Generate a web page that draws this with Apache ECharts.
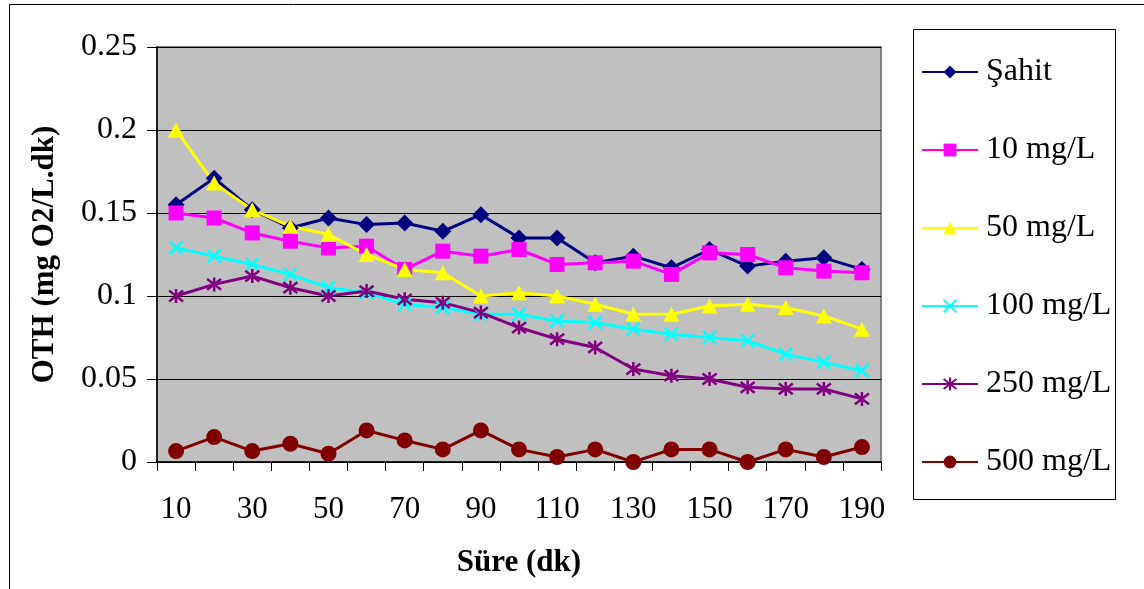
<!DOCTYPE html>
<html>
<head>
<meta charset="utf-8">
<script src="https://cdn.jsdelivr.net/npm/echarts@6/dist/echarts.min.js"></script>
<style>
html,body{margin:0;padding:0;background:#fff;}
#chart{width:1144px;height:589px;}
</style>
</head>
<body>
<div id="chart"></div>
<script>
const categories = ['10','20','30','40','50','60','70','80','90','100','110','120','130','140','150','160','170','180','190'];
const seriesNames = ['Şahit','10 mg/L','50 mg/L','100 mg/L','250 mg/L','500 mg/L'];
const sahit   = [0.155,0.171,0.152,0.141,0.147,0.143,0.144,0.139,0.149,0.135,0.135,0.120,0.124,0.117,0.128,0.118,0.121,0.123,0.116];
const mg10    = [0.150,0.147,0.138,0.133,0.129,0.130,0.116,0.127,0.124,0.128,0.119,0.120,0.121,0.113,0.126,0.125,0.117,0.115,0.114];
const mg50    = [0.200,0.168,0.152,0.142,0.137,0.125,0.116,0.114,0.100,0.102,0.100,0.095,0.089,0.089,0.094,0.095,0.093,0.088,0.080];
const mg100   = [0.129,0.124,0.119,0.113,0.105,0.102,0.095,0.093,0.089,0.089,0.085,0.084,0.080,0.077,0.075,0.073,0.065,0.060,0.055];
const mg250   = [0.100,0.107,0.112,0.105,0.100,0.103,0.098,0.096,0.090,0.081,0.074,0.069,0.056,0.052,0.050,0.045,0.044,0.044,0.038];
const mg500   = [0.0066,0.015,0.0066,0.011,0.005,0.019,0.013,0.0076,0.019,0.0076,0.003,0.0076,0.0,0.0076,0.0076,0.0,0.0076,0.003,0.009];
const yTicks  = ['0','0.05','0.1','0.15','0.2','0.25'];

const FONT = '"Liberation Serif","Times New Roman",serif';
const crossPath = 'path://M0,0L10,10M10,0L0,10';
const starPath = 'path://M0,0L10,10M10,0L0,10M5,-1.5L5,11.5';

function mk(name, data, color, symbol, size, stroke) {
  return {
    name: name, type: 'line', data: data,
    symbol: symbol, symbolSize: size,
    lineStyle: {color: color, width: 3},
    itemStyle: stroke ? {color: color, borderColor: color, borderWidth: 2.5} : {color: color, borderWidth: 0},
    emphasis: {disabled: true}
  };
}

const chart = echarts.init(document.getElementById('chart'), null, {renderer: 'canvas'});
chart.setOption({
  animation: false,
  backgroundColor: '#ffffff',
  textStyle: {fontFamily: FONT},
  graphic: [
    {type: 'rect', shape: {x: 9.5, y: 4.5, width: 1200, height: 700}, style: {fill: null, stroke: '#000', lineWidth: 1}, silent: true, z: -10},
    {type: 'rect', shape: {x: 913.5, y: 29.5, width: 202, height: 470}, style: {fill: '#fff', stroke: '#000', lineWidth: 1}, silent: true, z: -5}
  ],
  grid: {left: 157, top: 47, width: 724, height: 415, show: true, backgroundColor: '#c0c0c0', borderColor: '#808080', borderWidth: 2},
  legend: {
    orient: 'vertical', left: 921, top: 56, padding: 0,
    itemWidth: 56, itemHeight: 16, itemGap: 46,
    textStyle: {fontFamily: FONT, fontSize: 32, color: '#000', lineHeight: 32, padding: [0, 0, 0, 3]},
    data: seriesNames
  },
  xAxis: {
    type: 'category', data: categories, boundaryGap: true,
    name: 'Süre (dk)', nameLocation: 'middle', nameGap: 85,
    nameTextStyle: {fontFamily: FONT, fontSize: 31, fontWeight: 'bold', color: '#000'},
    axisLine: {lineStyle: {color: '#000', width: 1.5}},
    axisTick: {show: true, interval: 0, alignWithLabel: false, length: 9, lineStyle: {color: '#000'}},
    axisLabel: {interval: 1, margin: 32, fontFamily: FONT, fontSize: 31, color: '#000'},
    splitLine: {show: false}
  },
  yAxis: {
    type: 'value', min: 0, max: 0.25, interval: 0.05,
    name: 'OTH (mg O2/L.dk)', nameLocation: 'middle', nameGap: 97, nameRotate: 90,
    nameTextStyle: {fontFamily: FONT, fontSize: 31, fontWeight: 'bold', color: '#000'},
    axisLine: {show: true, lineStyle: {color: '#000', width: 1.5}},
    axisTick: {show: true, length: 10, lineStyle: {color: '#000'}},
    axisLabel: {margin: 20, fontFamily: FONT, fontSize: 32, color: '#000',
      formatter: function (v, i) { return yTicks[i] !== undefined ? yTicks[i] : String(v); }},
    splitLine: {show: true, lineStyle: {color: '#000', width: 1}}
  },
  series: [
    mk(seriesNames[0], sahit, '#000080', 'diamond', 17, false),
    mk(seriesNames[1], mg10, '#ff00ff', 'rect', 15, false),
    mk(seriesNames[2], mg50, '#ffff00', 'triangle', [16, 15], false),
    mk(seriesNames[3], mg100, '#00ffff', crossPath, 13, true),
    mk(seriesNames[4], mg250, '#800080', starPath, 14, true),
    mk(seriesNames[5], mg500, '#800000', 'circle', 16, false)
  ]
});
</script>
</body>
</html>
